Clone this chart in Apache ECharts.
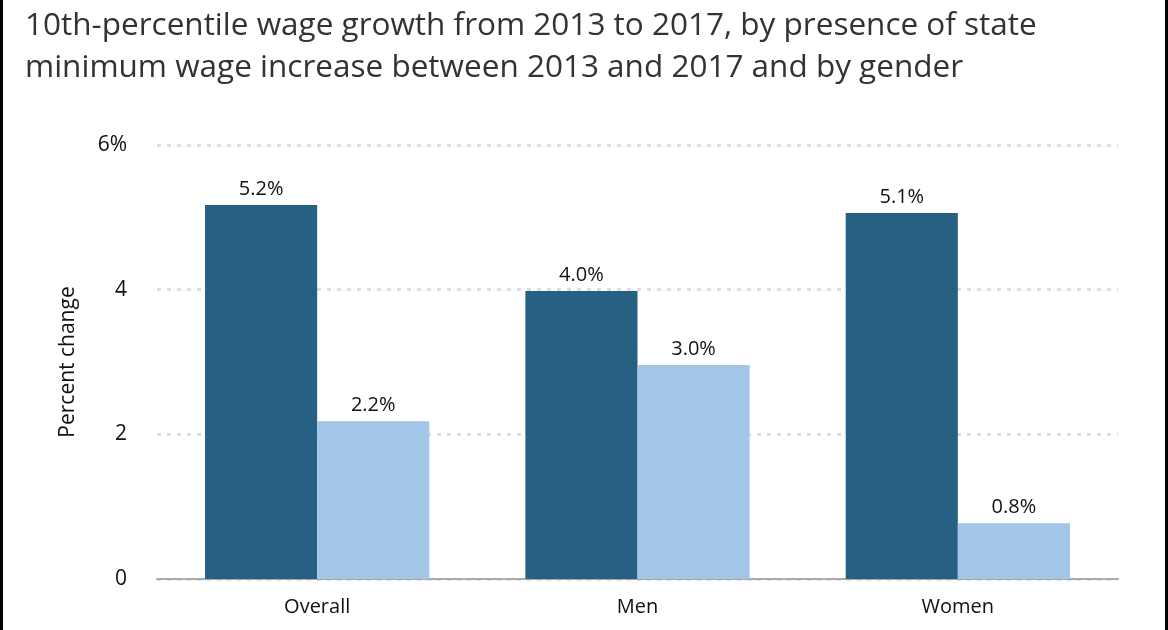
<!DOCTYPE html>
<html><head><meta charset="utf-8">
<script src="https://cdn.jsdelivr.net/npm/echarts@6/dist/echarts.min.js"></script>
<style>
html,body{margin:0;padding:0;background:#fff;}
#c{width:1168px;height:630px;}
#bl{position:absolute;left:0;top:0;width:3px;height:630px;background:#000;}
#br{position:absolute;right:0;top:0;width:3px;height:630px;background:#000;}
</style></head>
<body><div id="c"></div><div id="bl"></div><div id="br"></div>
<script>
const categories = ['Overall', 'Men', 'Women'];
const withIncrease = [5.17, 3.98, 5.06];
const withoutIncrease = [2.18, 2.96, 0.77];
const yTicks = {0: '0', 2: '2', 4: '4', 6: '6%'};

const chart = echarts.init(document.getElementById('c'));
const font = '"Open Sans", sans-serif';
const lbl = {show: true, position: 'top', distance: 6, fontSize: 20, color: '#111', fontFamily: font,
  formatter: p => p.value.toFixed(1) + '%'};
chart.setOption({
  animation: false,
  title: {text: '10th-percentile wage growth from 2013 to 2017, by presence of state\nminimum wage increase between 2013 and 2017 and by gender',
    left: 20, top: 0, textStyle: {fontSize: 31.5, fontWeight: 'normal', color: '#333', lineHeight: 42, fontFamily: font}},
  grid: {left: 157, right: 50, top: 145, bottom: 51},
  xAxis: {type: 'category', data: categories,
    axisLine: {show: true, lineStyle: {color: '#aaa', width: 2}},
    axisTick: {show: false},
    axisLabel: {fontSize: 20, color: '#111', margin: 18, fontFamily: font}},
  yAxis: {type: 'value', min: 0, max: 6, interval: 2,
    name: 'Percent change', nameLocation: 'middle', nameGap: 78, nameRotate: 90,
    nameTextStyle: {fontSize: 21, color: '#111', fontFamily: font},
    axisLine: {show: false}, axisTick: {show: false},
    axisLabel: {fontSize: 21, color: '#111', margin: 30, fontFamily: font, formatter: v => yTicks[v]},
    splitLine: {lineStyle: {color: '#ddd', width: 3, type: [4, 6]}}},
  series: [
    {type: 'bar', data: withIncrease, barGap: '0%', barCategoryGap: '30%', itemStyle: {color: '#266183'}, label: lbl},
    {type: 'bar', data: withoutIncrease, itemStyle: {color: '#a1c6e7'}, label: lbl}
  ]
});
</script></body></html>
